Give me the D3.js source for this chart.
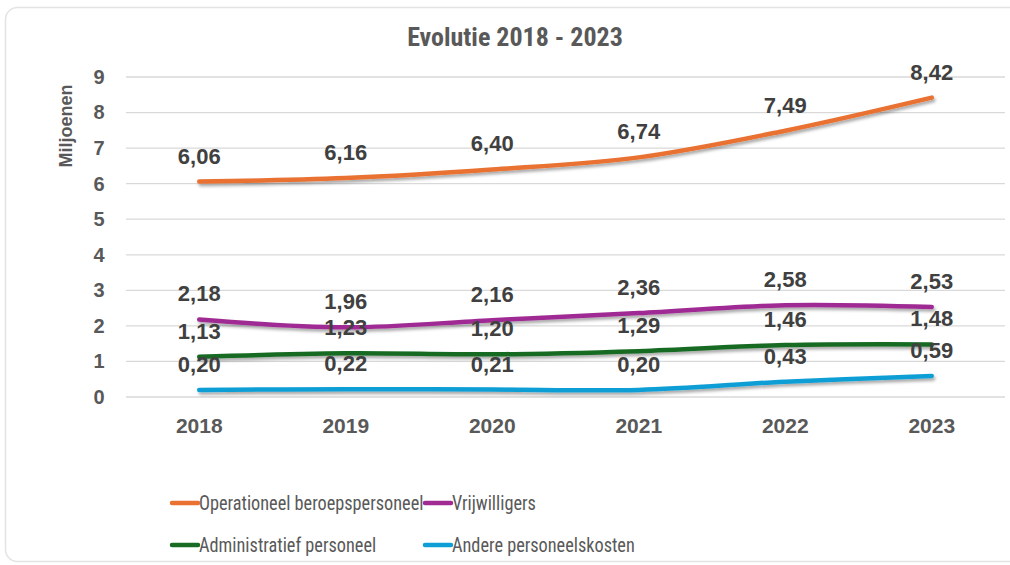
<!DOCTYPE html>
<html>
<head>
<meta charset="utf-8">
<script src="https://cdn.jsdelivr.net/npm/d3@7"></script>
<style>
  body { margin: 0; background: #fff; }
  svg { display: block; }
</style>
</head>
<body>
<svg id="chart" width="1010" height="565"></svg>
<script>
const years = ['2018', '2019', '2020', '2021', '2022', '2023'];
const operationeel = [6.06, 6.16, 6.40, 6.74, 7.49, 8.42];
const vrijwilligers = [2.18, 1.96, 2.16, 2.36, 2.58, 2.53];
const administratief = [1.13, 1.23, 1.20, 1.29, 1.46, 1.48];
const andere = [0.20, 0.22, 0.21, 0.20, 0.43, 0.59];
const yTicks = [0, 1, 2, 3, 4, 5, 6, 7, 8, 9];

const series = [
  { name: 'Operationeel beroepspersoneel', values: operationeel, color: '#E97132' },
  { name: 'Vrijwilligers', values: vrijwilligers, color: '#A02B93' },
  { name: 'Administratief personeel', values: administratief, color: '#196B24' },
  { name: 'Andere personeelskosten', values: andere, color: '#0F9ED5' }
];

const narrow = '"Liberation Sans Narrow", "Arial Narrow", "Roboto Condensed", sans-serif';
const sans = '"Liberation Sans", Arial, sans-serif';

const svg = d3.select('#chart');

// card
svg.append('rect')
  .attr('x', 5.5).attr('y', 7.5)
  .attr('width', 1030).attr('height', 554)
  .attr('rx', 12).attr('ry', 12)
  .attr('fill', '#fff')
  .attr('stroke', '#e3e3e3')
  .attr('stroke-width', 1.5);

const defs = svg.append('defs');
defs.append('filter')
  .attr('id', 'shadow')
  .attr('x', '-10%').attr('y', '-50%').attr('width', '120%').attr('height', '200%')
  .append('feDropShadow')
  .attr('dx', 1.5).attr('dy', 2.5)
  .attr('stdDeviation', 1.5)
  .attr('flood-color', '#000')
  .attr('flood-opacity', 0.35);

const x = d3.scaleBand().domain(years).range([126, 1005]);
const y = d3.scaleLinear().domain([0, 9]).range([397, 77]);

// title
svg.append('text')
  .attr('x', 515).attr('y', 46)
  .attr('text-anchor', 'middle')
  .style('font-family', narrow)
  .style('font-weight', 'bold')
  .style('font-size', '26px')
  .attr('fill', '#595959')
  .text('Evolutie 2018 - 2023');

// gridlines
svg.append('g')
  .selectAll('line')
  .data(yTicks)
  .enter()
  .append('line')
  .attr('x1', 126).attr('x2', 1005)
  .attr('y1', d => y(d)).attr('y2', d => y(d))
  .attr('stroke', '#d9d9d9')
  .attr('stroke-width', 1.3);

// y axis
const yAxis = svg.append('g')
  .attr('transform', 'translate(108,0)')
  .call(d3.axisLeft(y).tickValues(yTicks).tickSize(0).tickPadding(0).tickFormat(d3.format('d')));
yAxis.select('.domain').remove();
yAxis.selectAll('text')
  .attr('text-anchor', 'middle')
  .attr('x', -9)
  .style('font-family', sans)
  .style('font-weight', 'bold')
  .style('font-size', '20px')
  .attr('fill', '#595959');

svg.append('text')
  .attr('transform', 'translate(72,126) rotate(-90)')
  .attr('text-anchor', 'middle')
  .style('font-family', sans)
  .style('font-weight', 'bold')
  .style('font-size', '18px')
  .attr('fill', '#595959')
  .text('Miljoenen');

// x axis
const xAxis = svg.append('g')
  .attr('transform', 'translate(0,418)')
  .call(d3.axisBottom(x).tickSize(0).tickPadding(0));
xAxis.select('.domain').remove();
xAxis.selectAll('text')
  .style('font-family', sans)
  .style('font-weight', 'bold')
  .style('font-size', '21px')
  .attr('fill', '#595959');

// lines
const line = d3.line()
  .x((d, i) => x(years[i]) + x.bandwidth() / 2)
  .y(d => y(d))
  .curve(d3.curveCatmullRom.alpha(0.5));

svg.append('g')
  .selectAll('path')
  .data(series)
  .enter()
  .append('path')
  .attr('d', d => line(d.values))
  .attr('fill', 'none')
  .attr('stroke', d => d.color)
  .attr('stroke-width', 4.5)
  .attr('stroke-linecap', 'round')
  .attr('filter', 'url(#shadow)');

// data labels
const labels = svg.append('g');
series.forEach(s => {
  labels.selectAll(null)
    .data(s.values)
    .enter()
    .append('text')
    .attr('x', (d, i) => x(years[i]) + x.bandwidth() / 2)
    .attr('y', d => y(d) - 18)
    .attr('text-anchor', 'middle')
    .style('font-family', sans)
    .style('font-weight', 'bold')
    .style('font-size', '22px')
    .attr('fill', '#404040')
    .text(d => d.toFixed(2).replace('.', ','));
});

// legend
const legendPos = [
  { x: 172, y: 503 },
  { x: 425, y: 503 },
  { x: 172, y: 545 },
  { x: 425, y: 545 }
];
const legend = svg.append('g')
  .selectAll('g')
  .data(series)
  .enter()
  .append('g')
  .attr('transform', (d, i) => `translate(${legendPos[i].x},${legendPos[i].y})`);
legend.append('line')
  .attr('x1', 0).attr('x2', 26)
  .attr('stroke', d => d.color)
  .attr('stroke-width', 4.5)
  .attr('stroke-linecap', 'round');
legend.append('text')
  .attr('transform', 'translate(27,0) scale(0.87,1)')
  .attr('dy', '0.35em')
  .style('font-family', narrow)
  .style('font-size', '21px')
  .attr('fill', '#595959')
  .text(d => d.name);
</script>
</body>
</html>
